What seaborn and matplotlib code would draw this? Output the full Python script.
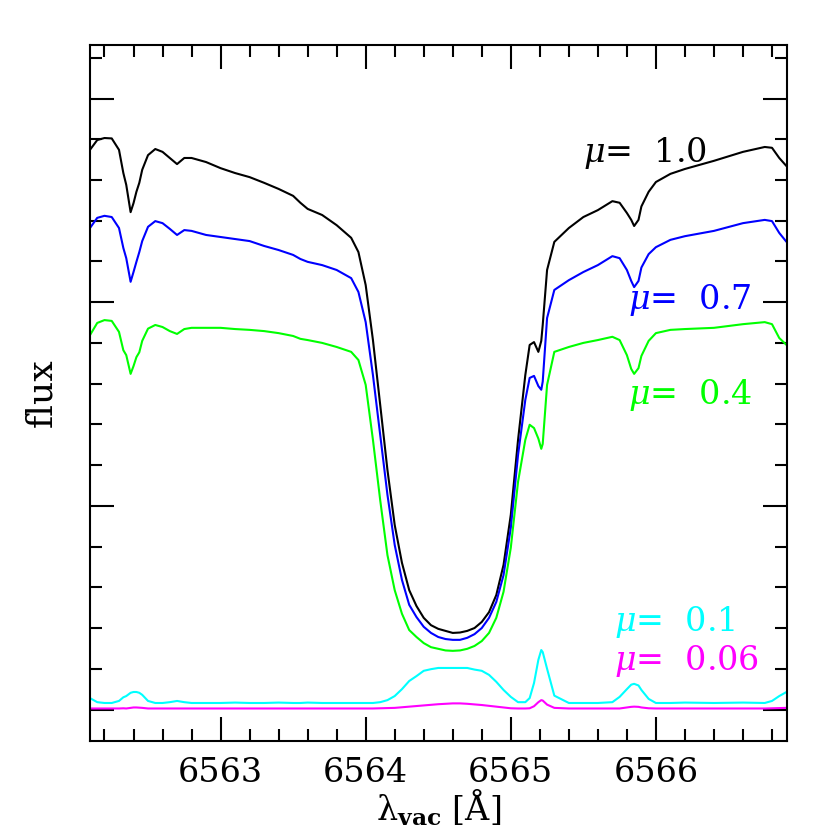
import matplotlib
matplotlib.use("Agg")
import matplotlib.pyplot as plt
from matplotlib.ticker import MultipleLocator, NullFormatter
import seaborn as sns
import pandas as pd
import numpy as np

sns.set_theme(style="ticks")
plt.rcParams['font.family'] = ['DejaVu Serif']
plt.rcParams['mathtext.fontset'] = 'dejavuserif'
plt.rcParams['text.color'] = 'black'
plt.rcParams['axes.labelcolor'] = 'black'

# wavelength grid (vacuum, Angstrom)
wave = [6562.10, 6562.15, 6562.20, 6562.25, 6562.30, 6562.33, 6562.35, 6562.38, 6562.40, 6562.42,
        6562.44, 6562.46, 6562.50, 6562.55, 6562.60, 6562.65, 6562.70, 6562.75, 6562.80, 6562.90,
        6563.00, 6563.10, 6563.20, 6563.30, 6563.40, 6563.50, 6563.55, 6563.60, 6563.70, 6563.80,
        6563.90, 6563.95, 6564.00, 6564.05, 6564.10, 6564.15, 6564.20, 6564.25, 6564.30, 6564.35,
        6564.40, 6564.45, 6564.50, 6564.55, 6564.60, 6564.65, 6564.70, 6564.75, 6564.80, 6564.85,
        6564.90, 6564.95, 6565.00, 6565.05, 6565.10, 6565.13, 6565.16, 6565.19, 6565.21, 6565.22,
        6565.25, 6565.30, 6565.40, 6565.50, 6565.60, 6565.70, 6565.75, 6565.80, 6565.83, 6565.85,
        6565.88, 6565.90, 6565.95, 6566.00, 6566.10, 6566.20, 6566.40, 6566.60, 6566.75, 6566.80,
        6566.85, 6566.90]

flux_10 = [1.374, 1.398, 1.403, 1.402, 1.374, 1.317, 1.288, 1.221, 1.243, 1.271,
           1.293, 1.325, 1.361, 1.376, 1.369, 1.354, 1.339, 1.354, 1.354, 1.344,
           1.329, 1.317, 1.307, 1.293, 1.278, 1.261, 1.244, 1.229, 1.214, 1.189,
           1.158, 1.123, 1.042, 0.907, 0.748, 0.588, 0.453, 0.360, 0.293, 0.254,
           0.225, 0.207, 0.198, 0.193, 0.188, 0.189, 0.193, 0.200, 0.215, 0.239,
           0.281, 0.355, 0.478, 0.662, 0.821, 0.895, 0.902, 0.878, 0.905, 0.944,
           1.079, 1.148, 1.182, 1.209, 1.226, 1.248, 1.244, 1.219, 1.202, 1.187,
           1.202, 1.235, 1.271, 1.295, 1.315, 1.327, 1.347, 1.369, 1.381, 1.379,
           1.354, 1.334]

flux_07 = [1.182, 1.207, 1.212, 1.209, 1.182, 1.133, 1.108, 1.050, 1.074, 1.099,
           1.123, 1.150, 1.185, 1.199, 1.194, 1.180, 1.165, 1.177, 1.175, 1.165,
           1.160, 1.155, 1.150, 1.138, 1.128, 1.116, 1.106, 1.099, 1.091, 1.079,
           1.059, 1.025, 0.951, 0.821, 0.674, 0.527, 0.404, 0.318, 0.257, 0.227,
           0.203, 0.188, 0.178, 0.173, 0.171, 0.171, 0.176, 0.185, 0.200, 0.225,
           0.264, 0.330, 0.446, 0.625, 0.760, 0.814, 0.819, 0.794, 0.785, 0.805,
           0.961, 1.030, 1.054, 1.074, 1.091, 1.113, 1.108, 1.079, 1.052, 1.037,
           1.052, 1.085, 1.118, 1.135, 1.153, 1.162, 1.175, 1.194, 1.202, 1.199,
           1.170, 1.148]

flux_04 = [0.919, 0.949, 0.956, 0.954, 0.927, 0.882, 0.870, 0.824, 0.843, 0.865,
           0.877, 0.905, 0.935, 0.944, 0.939, 0.929, 0.922, 0.934, 0.937, 0.937,
           0.937, 0.934, 0.932, 0.929, 0.924, 0.917, 0.910, 0.907, 0.900, 0.890,
           0.878, 0.858, 0.797, 0.662, 0.514, 0.379, 0.293, 0.235, 0.195, 0.178,
           0.163, 0.153, 0.149, 0.145, 0.144, 0.145, 0.149, 0.156, 0.168, 0.188,
           0.225, 0.289, 0.397, 0.559, 0.662, 0.699, 0.691, 0.665, 0.640, 0.652,
           0.797, 0.878, 0.890, 0.900, 0.907, 0.915, 0.907, 0.870, 0.836, 0.824,
           0.838, 0.868, 0.905, 0.924, 0.932, 0.934, 0.937, 0.946, 0.951, 0.946,
           0.912, 0.895]

flux_01 = [0.028, 0.018, 0.016, 0.016, 0.021, 0.030, 0.033, 0.041, 0.043, 0.043,
           0.041, 0.036, 0.021, 0.016, 0.016, 0.018, 0.021, 0.018, 0.016, 0.016,
           0.016, 0.017, 0.016, 0.016, 0.017, 0.016, 0.016, 0.017, 0.016, 0.016,
           0.016, 0.016, 0.016, 0.016, 0.018, 0.023, 0.033, 0.050, 0.070, 0.082,
           0.095, 0.099, 0.102, 0.102, 0.102, 0.102, 0.102, 0.098, 0.095, 0.085,
           0.068, 0.048, 0.031, 0.018, 0.018, 0.028, 0.065, 0.122, 0.146, 0.141,
           0.100, 0.034, 0.016, 0.016, 0.016, 0.018, 0.031, 0.050, 0.061, 0.063,
           0.059, 0.048, 0.026, 0.016, 0.016, 0.017, 0.016, 0.017, 0.016, 0.021,
           0.033, 0.043]

flux_006 = [0.0025, 0.0025, 0.0025, 0.0025, 0.0025, 0.003, 0.0025, 0.004, 0.005, 0.005,
            0.0045, 0.004, 0.0025, 0.0025, 0.0025, 0.0025, 0.0025, 0.0025, 0.0025, 0.0025,
            0.0025, 0.0025, 0.0025, 0.0025, 0.0025, 0.0025, 0.0025, 0.0025, 0.0025, 0.0025,
            0.0025, 0.0025, 0.0025, 0.0025, 0.003, 0.0035, 0.004, 0.0055, 0.007, 0.0085,
            0.010, 0.0115, 0.013, 0.014, 0.015, 0.015, 0.014, 0.0125, 0.011, 0.009,
            0.007, 0.005, 0.003, 0.0025, 0.0025, 0.003, 0.008, 0.018, 0.023, 0.022,
            0.012, 0.004, 0.0025, 0.0025, 0.0025, 0.0025, 0.0025, 0.005, 0.0065, 0.007,
            0.0065, 0.005, 0.003, 0.0025, 0.0025, 0.0025, 0.0025, 0.0025, 0.0025, 0.003,
            0.0035, 0.004]

mu_labels = ["1.0", "0.7", "0.4", "0.1", "0.06"]
mu_colors = ["black", "blue", "#00ff00", "cyan", "magenta"]
series = [flux_10, flux_07, flux_04, flux_01, flux_006]

# label anchor positions (wavelength, flux) for the mu annotations
label_pos = [(6565.50, 1.366), (6565.81, 1.005), (6565.81, 0.772),
             (6565.71, 0.215), (6565.71, 0.119)]

frames = []
for mu, fl in zip(mu_labels, series):
    frames.append(pd.DataFrame({"wave": wave, "flux": fl, "mu": mu}))
df = pd.concat(frames, ignore_index=True)

fig = plt.figure(figsize=(8.3, 8.3), dpi=100)
ax = fig.add_axes([0.1084, 0.1069, 0.8392, 0.8392])

sns.lineplot(data=df, x="wave", y="flux", hue="mu", hue_order=mu_labels,
             palette=dict(zip(mu_labels, mu_colors)), estimator=None, sort=False,
             linewidth=1.5, legend=False, ax=ax)

for mu, c, (xp, yp) in zip(mu_labels, mu_colors, label_pos):
    ax.text(xp, yp, r"$\mu$=  " + mu, color=c, fontsize=24, ha="left", va="center")

ax.set_xlim(6562.1, 6566.9)
ax.set_ylim(-0.078, 1.632)

ax.xaxis.set_major_locator(MultipleLocator(1.0))
ax.xaxis.set_minor_locator(MultipleLocator(0.2))
ax.yaxis.set_major_locator(MultipleLocator(0.5))
ax.yaxis.set_minor_locator(MultipleLocator(0.1))
ax.yaxis.set_major_formatter(NullFormatter())

ax.tick_params(which="both", direction="in", top=True, right=True, width=1.5,
               colors="black", labelsize=24, pad=11)
ax.tick_params(which="major", length=17)
ax.tick_params(which="minor", length=8.5)
for sp in ax.spines.values():
    sp.set_linewidth(1.5)
    sp.set_color("black")

ax.set_xlabel(r"λ$_{\mathbf{vac}}$ [Å]", fontsize=24, color="black")
ax.set_ylabel("flux", fontsize=26, color="black")
ax.xaxis.set_label_coords(0.5, -0.066)
ax.yaxis.set_label_coords(-0.046, 0.5)

fig.savefig("out.png", dpi=100)
